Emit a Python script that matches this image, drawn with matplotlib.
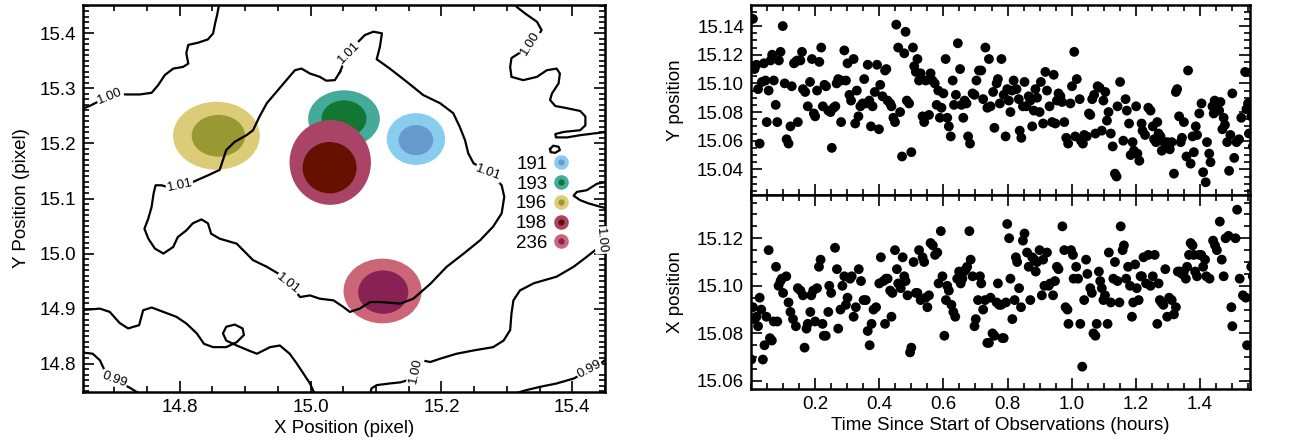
import numpy as np
import matplotlib
matplotlib.use('Agg')
import matplotlib.pyplot as plt
from matplotlib.patches import Ellipse
from matplotlib.ticker import MultipleLocator
from matplotlib.lines import Line2D

plt.rcParams['font.family'] = ['Liberation Sans', 'DejaVu Sans']

# ---------------- left panel data ----------------
star_labels = ['191', '193', '196', '198', '236']
outer_x = [15.161, 15.051, 14.856, 15.030, 15.110]
outer_y = [15.208, 15.245, 15.214, 15.1655, 14.932]
outer_hw = [0.0446, 0.0548, 0.0663, 0.0622, 0.0597]
outer_hh = [0.0470, 0.0515, 0.0618, 0.0770, 0.0588]
inner_x = [15.161, 15.051, 14.859, 15.029, 15.111]
inner_y = [15.206, 15.245, 15.214, 15.156, 14.930]
inner_hw = [0.0265, 0.0344, 0.0408, 0.0413, 0.0383]
inner_hh = [0.0273, 0.0333, 0.0379, 0.0467, 0.0394]
outer_colors = ['#88CCEE', '#44AA99', '#DDCC77', '#AA4466', '#CC6677']
inner_colors = ['#6699CC', '#117733', '#999933', '#661100', '#882255']

# contour lines (flux levels)
lvl100_a_x = [14.647, 14.662, 14.672, 14.693, 14.716, 14.739, 14.757, 14.767, 14.777, 14.790, 14.805, 14.813, 14.810, 14.813, 14.828, 14.843, 14.851, 14.854, 14.857, 14.861]
lvl100_a_y = [15.261, 15.268, 15.274, 15.285, 15.289, 15.289, 15.292, 15.306, 15.324, 15.336, 15.339, 15.345, 15.364, 15.379, 15.383, 15.389, 15.400, 15.418, 15.433, 15.458]

lvl101_x = [15.045, 15.050, 15.059, 15.073, 15.083, 15.096, 15.109, 15.106, 15.101, 15.121, 15.147, 15.172, 15.198, 15.218, 15.228, 15.236, 15.241, 15.249, 15.272, 15.292, 15.296, 15.292, 15.279, 15.259, 15.234, 15.208, 15.183, 15.157, 15.137, 15.106, 15.091, 15.075, 15.060, 15.050, 15.035, 15.014, 14.999, 14.984, 14.973, 14.966, 14.950, 14.933, 14.912, 14.897, 14.887, 14.861, 14.848, 14.843, 14.833, 14.820, 14.810, 14.797, 14.790, 14.775, 14.762, 14.752, 14.746, 14.752, 14.757, 14.760, 14.763, 14.772, 14.782, 14.800, 14.820, 14.843, 14.861, 14.866, 14.871, 14.884, 14.902, 14.912, 14.922, 14.933, 14.948, 14.963, 14.976, 14.986, 14.999, 15.014, 15.024, 15.037, 15.045]
lvl101_y = [15.330, 15.345, 15.365, 15.385, 15.397, 15.403, 15.400, 15.376, 15.353, 15.336, 15.312, 15.288, 15.273, 15.255, 15.230, 15.206, 15.182, 15.164, 15.149, 15.124, 15.103, 15.073, 15.049, 15.024, 15.000, 14.976, 14.945, 14.918, 14.909, 14.912, 14.912, 14.900, 14.894, 14.903, 14.915, 14.918, 14.924, 14.921, 14.936, 14.946, 14.964, 14.976, 14.988, 15.006, 15.018, 15.027, 15.036, 15.055, 15.062, 15.055, 15.042, 15.030, 15.012, 15.000, 15.009, 15.027, 15.045, 15.064, 15.085, 15.109, 15.124, 15.124, 15.121, 15.124, 15.130, 15.142, 15.152, 15.170, 15.188, 15.203, 15.215, 15.224, 15.249, 15.273, 15.294, 15.315, 15.333, 15.336, 15.327, 15.321, 15.314, 15.315, 15.330]

lvl100_b_x = [15.313, 15.315, 15.328, 15.346, 15.353, 15.346, 15.336, 15.320, 15.307, 15.305, 15.307, 15.325, 15.346, 15.361, 15.376, 15.381, 15.379, 15.369, 15.366, 15.374, 15.392, 15.412, 15.420, 15.420, 15.412, 15.387, 15.374, 15.375, 15.392, 15.412, 15.432, 15.453]
lvl100_b_y = [15.458, 15.448, 15.436, 15.421, 15.406, 15.391, 15.382, 15.365, 15.355, 15.339, 15.321, 15.315, 15.321, 15.333, 15.336, 15.327, 15.309, 15.291, 15.279, 15.268, 15.264, 15.259, 15.249, 15.233, 15.224, 15.221, 15.217, 15.211, 15.211, 15.215, 15.218, 15.221]

lvl100_c_x = [15.366, 15.371, 15.379, 15.381, 15.374, 15.367, 15.366]
lvl100_c_y = [15.190, 15.196, 15.194, 15.188, 15.183, 15.184, 15.190]

lvl100_d_x = [15.453, 15.438, 15.422, 15.407, 15.402, 15.412, 15.425, 15.443, 15.453]
lvl100_d_y = [15.130, 15.127, 15.115, 15.112, 15.105, 15.097, 15.091, 15.085, 15.082]

lvl100_e_x = [15.453, 15.449, 15.445, 15.438, 15.422, 15.402, 15.376, 15.341, 15.320, 15.310, 15.307, 15.305, 15.295, 15.279, 15.249, 15.223, 15.198, 15.183, 15.170, 15.162, 15.149, 15.137, 15.121, 15.101, 15.093, 15.091]
lvl100_e_y = [15.042, 15.024, 15.015, 15.009, 14.994, 14.976, 14.958, 14.946, 14.933, 14.915, 14.891, 14.861, 14.842, 14.830, 14.824, 14.818, 14.809, 14.803, 14.806, 14.788, 14.770, 14.766, 14.764, 14.761, 14.755, 14.743]

lvl100_f_x = [14.647, 14.678, 14.693, 14.708, 14.721, 14.738, 14.744, 14.757, 14.775, 14.795, 14.810, 14.826, 14.837, 14.851, 14.871, 14.887, 14.898, 14.896, 14.884, 14.871, 14.866, 14.871, 14.887, 14.905, 14.918, 14.938, 14.953, 14.968, 14.979, 14.989, 14.999, 15.007]
lvl100_f_y = [14.897, 14.900, 14.894, 14.874, 14.864, 14.870, 14.897, 14.902, 14.894, 14.885, 14.873, 14.855, 14.836, 14.830, 14.830, 14.839, 14.852, 14.864, 14.871, 14.867, 14.855, 14.842, 14.833, 14.824, 14.818, 14.830, 14.833, 14.818, 14.800, 14.782, 14.764, 14.743]

lvl099_a_x = [14.647, 14.667, 14.678, 14.685, 14.700, 14.724, 14.739]
lvl099_a_y = [14.821, 14.818, 14.806, 14.788, 14.771, 14.756, 14.745]

lvl099_b_x = [15.310, 15.330, 15.351, 15.376, 15.402, 15.427, 15.443, 15.453]
lvl099_b_y = [14.745, 14.752, 14.758, 14.764, 14.773, 14.788, 14.800, 14.809]

clabel_text = ['1.00', '1.01', '1.00', '1.01', '1.01', '1.01', '0.99', '1.00', '1.00', '0.99']
clabel_x = [14.693, 15.059, 15.336, 15.272, 14.800, 14.966, 14.700, 15.160, 15.444, 15.426]
clabel_y = [15.286, 15.365, 15.382, 15.147, 15.123, 14.946, 14.771, 14.787, 15.024, 14.789]
clabel_rot = [22, 45, 58, -20, 12, -38, -20, 78, -85, 28]

# ---------------- right panels data ----------------
top_t = [0.006,0.011,0.017,0.022,0.027,0.034,0.040,0.045,0.049,0.055,0.061,0.066,0.071,0.077,0.082,0.087,0.092,0.099,0.105,0.111,0.117,0.123,0.127,0.134,0.139,0.144,0.146,0.154,0.159,0.162,0.169,0.177,0.184,0.190,0.196,0.200,0.206,0.213,0.219,0.224,0.229,0.234,0.241,0.248,0.252,0.258,0.263,0.267,0.272,0.281,0.281,0.291,0.296,0.301,0.307,0.312,0.320,0.325,0.330,0.335,0.341,0.348,0.353,0.358,0.364,0.369,0.374,0.379,0.386,0.393,0.399,0.403,0.410,0.418,0.422,0.426,0.434,0.438,0.444,0.449,0.453,0.459,0.465,0.471,0.478,0.482,0.486,0.493,0.500,0.505,0.509,0.514,0.519,0.524,0.529,0.535,0.540,0.545,0.555,0.560,0.566,0.573,0.579,0.584,0.589,0.594,0.600,0.607,0.612,0.617,0.623,0.629,0.633,0.639,0.645,0.652,0.656,0.662,0.666,0.672,0.677,0.683,0.691,0.697,0.703,0.711,0.718,0.724,0.731,0.737,0.742,0.747,0.755,0.759,0.766,0.770,0.776,0.781,0.788,0.794,0.799,0.804,0.809,0.814,0.819,0.828,0.835,0.838,0.843,0.848,0.853,0.859,0.866,0.871,0.877,0.882,0.887,0.892,0.900,0.904,0.911,0.918,0.923,0.931,0.939,0.944,0.949,0.954,0.959,0.965,0.970,0.977,0.983,0.989,0.996,1.001,1.008,1.011,1.016,1.025,1.029,1.035,1.039,1.047,1.054,1.058,1.064,1.070,1.074,1.081,1.087,1.094,1.099,1.105,1.110,1.115,1.122,1.128,1.135,1.140,1.143,1.151,1.161,1.168,1.172,1.179,1.184,1.190,1.194,1.201,1.205,1.211,1.218,1.221,1.229,1.239,1.246,1.253,1.257,1.263,1.267,1.271,1.277,1.281,1.288,1.294,1.298,1.306,1.312,1.319,1.325,1.329,1.335,1.340,1.344,1.350,1.358,1.363,1.371,1.377,1.381,1.387,1.391,1.398,1.405,1.410,1.418,1.422,1.429,1.433,1.439,1.443,1.446,1.451,1.460,1.464,1.470,1.474,1.478,1.485,1.491,1.495,1.501,1.507,1.514,1.522,1.529,1.541,1.545,1.550,1.553,1.560,1.565]
top_ypos = [15.145,15.110,15.113,15.096,15.058,15.101,15.114,15.102,15.073,15.095,15.116,15.120,15.102,15.085,15.073,15.116,15.122,15.140,15.100,15.061,15.058,15.070,15.098,15.114,15.115,15.116,15.073,15.116,15.122,15.096,15.094,15.084,15.101,15.117,15.079,15.077,15.095,15.115,15.125,15.084,15.099,15.098,15.081,15.080,15.055,15.083,15.084,15.100,15.103,15.102,15.073,15.123,15.102,15.114,15.092,15.088,15.117,15.072,15.095,15.077,15.084,15.086,15.103,15.086,15.113,15.088,15.070,15.084,15.094,15.113,15.068,15.099,15.091,15.109,15.110,15.088,15.086,15.084,15.076,15.073,15.141,15.125,15.080,15.049,15.121,15.136,15.088,15.086,15.052,15.125,15.112,15.108,15.117,15.102,15.107,15.077,15.073,15.102,15.078,15.107,15.102,15.100,15.085,15.095,15.076,15.083,15.093,15.117,15.076,15.070,15.063,15.102,15.085,15.092,15.128,15.110,15.085,15.076,15.088,15.086,15.063,15.058,15.093,15.092,15.102,15.109,15.109,15.089,15.125,15.083,15.117,15.084,15.094,15.069,15.100,15.103,15.086,15.117,15.092,15.063,15.096,15.088,15.080,15.095,15.102,15.096,15.089,15.067,15.062,15.084,15.101,15.084,15.091,15.088,15.070,15.081,15.096,15.090,15.080,15.101,15.072,15.108,15.095,15.084,15.073,15.106,15.072,15.088,15.093,15.091,15.087,15.073,15.062,15.058,15.086,15.098,15.122,15.063,15.103,15.089,15.060,15.058,15.064,15.063,15.079,15.078,15.089,15.092,15.065,15.098,15.097,15.067,15.088,15.094,15.074,15.080,15.065,15.056,15.037,15.035,15.084,15.101,15.060,15.089,15.081,15.072,15.050,15.059,15.053,15.084,15.051,15.046,15.072,15.067,15.064,15.083,15.081,15.070,15.061,15.059,15.073,15.065,15.063,15.053,15.059,15.056,15.059,15.054,15.059,15.037,15.094,15.096,15.077,15.059,15.062,15.073,15.049,15.109,15.044,15.063,15.052,15.070,15.064,15.079,15.086,15.038,15.031,15.059,15.051,15.045,15.084,15.079,15.088,15.086,15.081,15.087,15.068,15.076,15.071,15.059,15.039,15.064,15.093,15.048,15.059,15.061,15.076,15.108,15.082,15.086,15.065,15.077,15.056]

bot_t = [0.001,0.006,0.011,0.017,0.022,0.027,0.032,0.037,0.042,0.048,0.055,0.059,0.065,0.071,0.082,0.078,0.086,0.092,0.096,0.100,0.110,0.117,0.123,0.131,0.140,0.146,0.154,0.162,0.167,0.173,0.177,0.185,0.188,0.194,0.200,0.206,0.212,0.217,0.223,0.227,0.233,0.241,0.244,0.250,0.262,0.268,0.272,0.279,0.285,0.291,0.296,0.301,0.309,0.314,0.320,0.327,0.336,0.343,0.351,0.358,0.364,0.370,0.376,0.382,0.390,0.405,0.400,0.413,0.421,0.426,0.418,0.434,0.438,0.441,0.449,0.455,0.459,0.467,0.473,0.478,0.482,0.488,0.496,0.500,0.507,0.514,0.519,0.524,0.529,0.535,0.540,0.545,0.550,0.555,0.560,0.567,0.574,0.581,0.585,0.592,0.597,0.603,0.608,0.612,0.617,0.625,0.631,0.637,0.643,0.649,0.654,0.659,0.664,0.670,0.674,0.681,0.685,0.691,0.697,0.701,0.708,0.714,0.718,0.724,0.730,0.737,0.742,0.747,0.753,0.759,0.766,0.770,0.774,0.780,0.784,0.788,0.795,0.799,0.805,0.809,0.815,0.822,0.826,0.830,0.836,0.842,0.848,0.853,0.861,0.866,0.871,0.877,0.884,0.888,0.892,0.900,0.907,0.911,0.915,0.923,0.928,0.933,0.942,0.948,0.954,0.959,0.971,0.977,0.981,0.987,0.990,0.998,1.004,1.006,1.014,1.020,1.027,1.033,1.039,1.045,1.049,1.058,1.063,1.068,1.074,1.078,1.085,1.089,1.094,1.099,1.104,1.112,1.116,1.122,1.130,1.135,1.143,1.149,1.153,1.159,1.163,1.170,1.176,1.182,1.188,1.192,1.198,1.203,1.209,1.215,1.219,1.224,1.232,1.239,1.246,1.253,1.259,1.267,1.271,1.275,1.280,1.286,1.292,1.298,1.304,1.312,1.319,1.325,1.331,1.337,1.344,1.350,1.356,1.360,1.366,1.371,1.377,1.381,1.385,1.391,1.398,1.404,1.410,1.416,1.420,1.430,1.441,1.447,1.453,1.462,1.468,1.474,1.480,1.489,1.498,1.501,1.511,1.516,1.524,1.534,1.543,1.547,1.560,1.565]
bot_xpos = [15.069,15.091,15.086,15.087,15.083,15.095,15.090,15.069,15.075,15.087,15.115,15.078,15.077,15.085,15.085,15.108,15.100,15.102,15.103,15.097,15.104,15.093,15.089,15.086,15.083,15.099,15.098,15.096,15.074,15.082,15.084,15.089,15.096,15.098,15.085,15.099,15.108,15.111,15.084,15.079,15.079,15.089,15.100,15.097,15.116,15.107,15.082,15.090,15.100,15.104,15.092,15.095,15.103,15.104,15.087,15.091,15.107,15.102,15.094,15.094,15.081,15.075,15.084,15.090,15.091,15.112,15.101,15.102,15.103,15.103,15.084,15.098,15.087,15.097,15.115,15.107,15.101,15.099,15.112,15.104,15.102,15.096,15.072,15.074,15.110,15.097,15.097,15.115,15.094,15.112,15.110,15.095,15.091,15.096,15.118,15.117,15.113,15.114,15.101,15.123,15.104,15.079,15.094,15.100,15.098,15.092,15.089,15.087,15.103,15.106,15.101,15.103,15.106,15.107,15.108,15.123,15.111,15.104,15.083,15.086,15.094,15.104,15.101,15.090,15.094,15.076,15.076,15.095,15.080,15.079,15.093,15.101,15.092,15.092,15.078,15.078,15.093,15.126,15.120,15.103,15.086,15.094,15.112,15.110,15.099,15.091,15.119,15.122,15.114,15.108,15.094,15.112,15.111,15.106,15.110,15.115,15.096,15.111,15.100,15.114,15.100,15.101,15.096,15.102,15.108,15.107,15.125,15.115,15.091,15.090,15.084,15.115,15.113,15.103,15.108,15.103,15.084,15.066,15.094,15.111,15.105,15.099,15.097,15.080,15.079,15.084,15.106,15.102,15.099,15.094,15.096,15.084,15.114,15.093,15.103,15.110,15.102,15.093,15.125,15.115,15.117,15.103,15.108,15.100,15.087,15.093,15.109,15.099,15.094,15.104,15.104,15.112,15.101,15.113,15.100,15.104,15.113,15.084,15.101,15.094,15.093,15.092,15.107,15.087,15.095,15.094,15.088,15.091,15.106,15.106,15.105,15.106,15.103,15.108,15.113,15.118,15.117,15.113,15.106,15.104,15.113,15.113,15.108,15.111,15.104,15.103,15.119,15.117,15.115,15.127,15.111,15.104,15.120,15.121,15.091,15.083,15.120,15.132,15.103,15.096,15.095,15.075,15.108,15.104]

# ---------------- figure ----------------
fig = plt.figure(figsize=(13, 4.42), dpi=100)
ax = fig.add_axes([0.0638, 0.1131, 0.4016, 0.8756])
ax1 = fig.add_axes([0.5777, 0.5578, 0.3838, 0.4309])
ax2 = fig.add_axes([0.5777, 0.1199, 0.3838, 0.4379])

FS = 13.5
for a in (ax, ax1, ax2):
    for s in a.spines.values():
        s.set_linewidth(1.8)
    a.tick_params(which='both', direction='in', top=True, right=True, labelsize=FS, width=1.2, pad=5)
    a.tick_params(which='major', length=8)
    a.tick_params(which='minor', length=4)

# left panel
for i in range(len(star_labels)):
    ax.add_patch(Ellipse((outer_x[i], outer_y[i]), 2 * outer_hw[i], 2 * outer_hh[i],
                         facecolor=outer_colors[i], edgecolor='none', zorder=1))
    ax.add_patch(Ellipse((inner_x[i], inner_y[i]), 2 * inner_hw[i], 2 * inner_hh[i],
                         facecolor=inner_colors[i], edgecolor='none', zorder=1))

paths = [(lvl100_a_x, lvl100_a_y), (lvl101_x, lvl101_y), (lvl100_b_x, lvl100_b_y),
         (lvl100_c_x, lvl100_c_y), (lvl100_d_x, lvl100_d_y), (lvl100_e_x, lvl100_e_y),
         (lvl100_f_x, lvl100_f_y), (lvl099_a_x, lvl099_a_y), (lvl099_b_x, lvl099_b_y)]
for px, py in paths:
    ax.plot(px, py, color='black', lw=1.6, zorder=3, solid_joinstyle='round')
for txt, x, y, r in zip(clabel_text, clabel_x, clabel_y, clabel_rot):
    ax.text(x, y, txt, rotation=r, fontsize=9.5, ha='center', va='center', zorder=4,
            rotation_mode='anchor',
            bbox=dict(facecolor='white', edgecolor='none', pad=0.6))

ax.set_xlim(14.652, 15.450)
ax.set_ylim(14.7485, 15.4515)
ax.xaxis.set_major_locator(MultipleLocator(0.2))
ax.xaxis.set_minor_locator(MultipleLocator(0.05))
ax.yaxis.set_major_locator(MultipleLocator(0.1))
ax.yaxis.set_minor_locator(MultipleLocator(0.01))
ax.set_xlabel('X Position (pixel)', fontsize=FS, labelpad=3)
ax.set_ylabel('Y Position (pixel)', fontsize=FS, labelpad=7)

handles = []
for i in range(len(star_labels)):
    h_out = Line2D([], [], marker='o', ls='', ms=10.5, mfc=outer_colors[i], mec='none')
    h_in = Line2D([], [], marker='o', ls='', ms=4.5, mfc=inner_colors[i], mec='none')
    handles.append((h_out, h_in))
ax.legend(handles, star_labels, loc='center', bbox_to_anchor=(0.88, 0.486),
          frameon=False, fontsize=FS, markerfirst=False, handlelength=0.8,
          handletextpad=0.35, labelspacing=0.14, borderpad=0)

# right panels
ax1.scatter(top_t, top_ypos, s=50, color='black', edgecolors='none', zorder=3)
ax2.scatter(bot_t, bot_xpos, s=50, color='black', edgecolors='none', zorder=3)
for a in (ax1, ax2):
    a.set_xlim(0.0, 1.556)
    a.set_xticks([0.2, 0.4, 0.6, 0.8, 1.0, 1.2, 1.4])
    a.xaxis.set_minor_locator(MultipleLocator(0.05))
    a.yaxis.set_major_locator(MultipleLocator(0.02))
    a.yaxis.set_minor_locator(MultipleLocator(0.005))
ax1.set_ylim(15.0218, 15.1547)
ax2.set_ylim(15.0566, 15.138)
ax1.tick_params(labelbottom=False)
ax1.set_ylabel('Y position', fontsize=FS, labelpad=9)
ax2.set_ylabel('X position', fontsize=FS, labelpad=9)
ax2.set_xlabel('Time Since Start of Observations (hours)', fontsize=FS, labelpad=3)

fig.savefig('out.png', dpi=100)
